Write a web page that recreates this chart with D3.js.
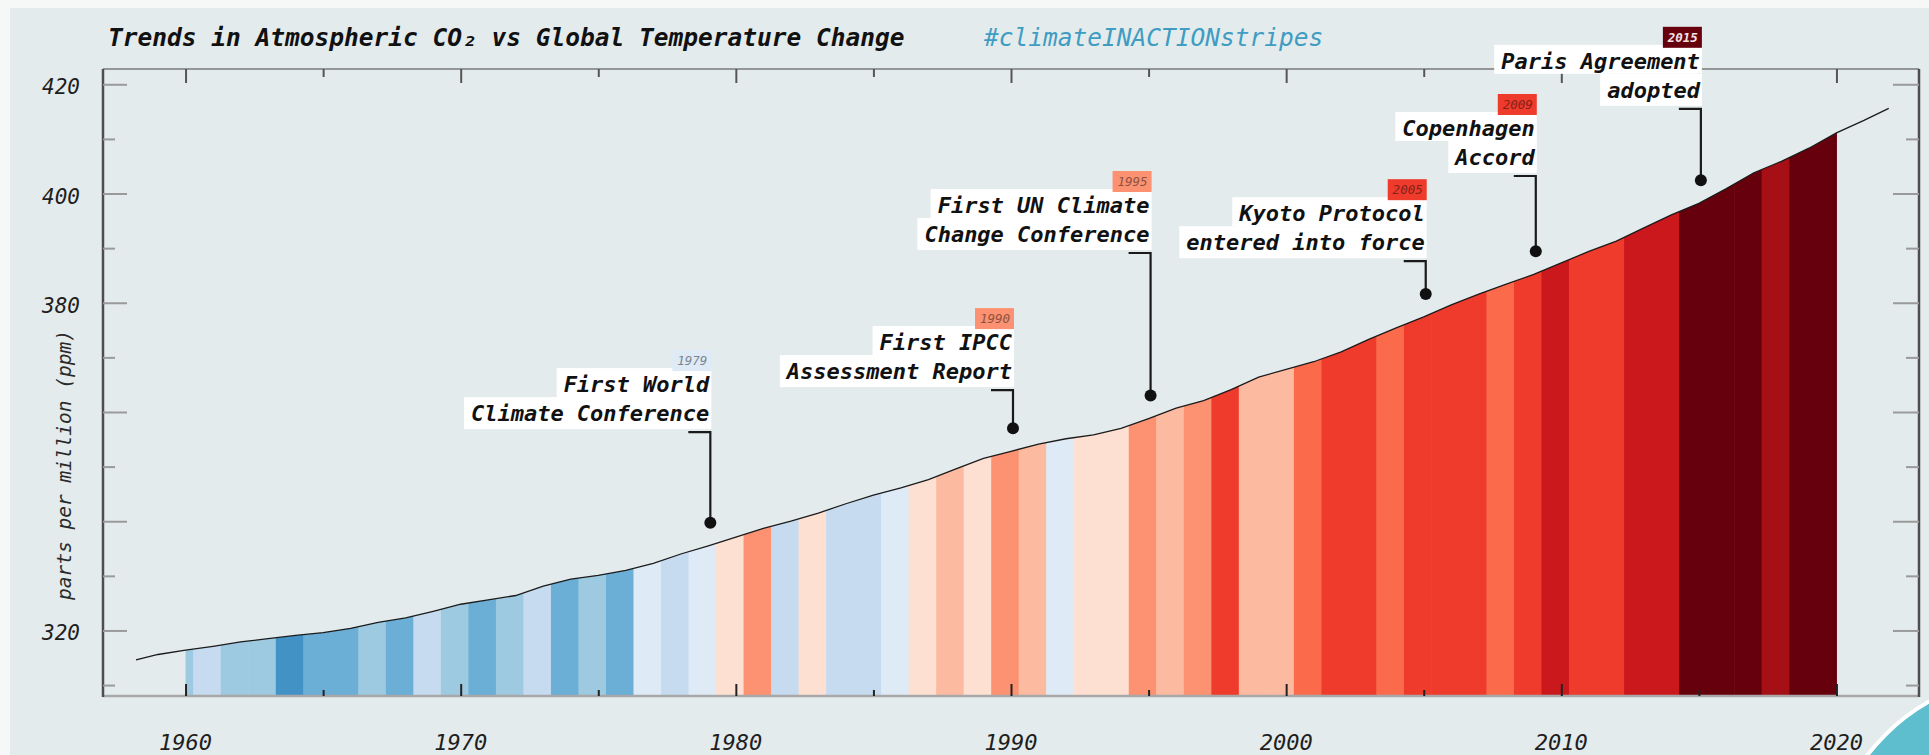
<!DOCTYPE html>
<html>
<head>
<meta charset="utf-8">
<script src="https://cdn.jsdelivr.net/npm/d3@7"></script>
<style>
  html, body { margin: 0; padding: 0; background: #fff; }
  svg { display: block; }
  text { font-family: 'DejaVu Sans Mono', monospace; }
</style>
</head>
<body>
<svg id="chart"></svg>
<script>
// CO2 concentration (ppm), at decimal-year dates
const co2Dates = [
  1958.2, 1959, 1960, 1961, 1962, 1963, 1964, 1965, 1966, 1967, 1968, 1969,
  1970, 1971, 1972, 1973, 1974, 1975, 1976, 1977, 1978, 1979,
  1980, 1981, 1982, 1983, 1984, 1985, 1986, 1987, 1988, 1989,
  1990, 1991, 1992, 1993, 1994, 1995, 1996, 1997, 1998, 1999,
  2000, 2001, 2002, 2003, 2004, 2005, 2006, 2007, 2008, 2009,
  2010, 2011, 2012, 2013, 2014, 2015, 2016, 2017, 2018, 2019,
  2020, 2021, 2021.9
]
const co2Values = [
  314.6, 315.6, 316.4, 317.1, 317.9, 318.5, 319.1, 319.6, 320.4, 321.5, 322.3, 323.5,
  324.8, 325.6, 326.4, 328.1, 329.4, 330.1, 331.0, 332.3, 334.0, 335.5,
  337.1, 338.7, 340.0, 341.5, 343.2, 344.8, 346.1, 347.6, 349.6, 351.5,
  352.8, 354.1, 355.1, 355.8, 357.0, 358.8, 360.7, 362.1, 364.1, 366.4,
  367.8, 369.2, 371.0, 373.3, 375.4, 377.4, 379.6, 381.6, 383.4, 385.2,
  387.3, 389.4, 391.3, 393.7, 396.1, 398.2, 400.9, 403.8, 405.9, 408.3,
  411.1, 413.4, 415.6
]

// warming stripes: one colour per year
const stripeYears = [
  1960, 1961, 1962, 1963, 1964, 1965, 1966, 1967, 1968, 1969,
  1970, 1971, 1972, 1973, 1974, 1975, 1976, 1977, 1978, 1979,
  1980, 1981, 1982, 1983, 1984, 1985, 1986, 1987, 1988, 1989,
  1990, 1991, 1992, 1993, 1994, 1995, 1996, 1997, 1998, 1999,
  2000, 2001, 2002, 2003, 2004, 2005, 2006, 2007, 2008, 2009,
  2010, 2011, 2012, 2013, 2014, 2015, 2016, 2017, 2018, 2019, 2020
]
const stripeColors = [
  '#9ecae1', '#c6dbef', '#9ecae1', '#9ecae1', '#4292c6', '#6baed6', '#6baed6', '#9ecae1', '#6baed6', '#c6dbef',
  '#9ecae1', '#6baed6', '#9ecae1', '#c6dbef', '#6baed6', '#9ecae1', '#6baed6', '#deebf7', '#c6dbef', '#deebf7',
  '#fee0d2', '#fc9272', '#c6dbef', '#fee0d2', '#c6dbef', '#c6dbef', '#deebf7', '#fee0d2', '#fcbba1', '#fee0d2',
  '#fc9272', '#fcbba1', '#deebf7', '#fee0d2', '#fee0d2', '#fc9272', '#fcbba1', '#fc9272', '#ef3b2c', '#fcbba1',
  '#fcbba1', '#fb6a4a', '#ef3b2c', '#ef3b2c', '#fb6a4a', '#ef3b2c', '#ef3b2c', '#ef3b2c', '#fb6a4a', '#ef3b2c',
  '#cb181d', '#ef3b2c', '#ef3b2c', '#cb181d', '#cb181d', '#67000d', '#67000d', '#67000d', '#a50f15', '#67000d', '#67000d'
]

// climate policy milestones
const eventYears = [1979, 1990, 1995, 2005, 2009, 2015]
const eventLabels = [
  ['First World', 'Climate Conference'],
  ['First IPCC', 'Assessment Report'],
  ['First UN Climate', 'Change Conference'],
  ['Kyoto Protocol', 'entered into force'],
  ['Copenhagen', 'Accord'],
  ['Paris Agreement', 'adopted']
]

const xTickLabels = [1960, 1970, 1980, 1990, 2000, 2010, 2020]
const yTickLabels = [320, 380, 400, 420]

// ---------------------------------------------------------------

const width = 1929
const height = 755
const plot = { left: 103, right: 1919, top: 69, bottom: 696 }

// where each callout's first text line sits, in ppm
const calloutLevels = [365.1, 372.8, 397.9, 396.4, 412.0, 424.3]

const x = d3.scaleLinear().domain([1957, 2023]).range([plot.left, plot.right])
const y = d3.scaleLinear().domain([308, 422.8]).range([plot.bottom, plot.top])

const svg = d3.select('#chart').attr('width', width).attr('height', height)

svg.append('rect').attr('width', width).attr('height', height).attr('fill', '#f6f8f8')
svg.append('rect')
  .attr('x', 10).attr('y', 8)
  .attr('width', width - 10).attr('height', height - 8)
  .attr('fill', '#e4ebec')

const co2 = co2Dates.map((date, i) => ({ date, value: co2Values[i] }))

// stripes, clipped to the area under the CO2 curve
const area = d3.area()
  .x(d => x(d.date))
  .y0(y(308))
  .y1(d => y(d.value))

svg.append('clipPath').attr('id', 'under-curve')
  .append('path').attr('d', area(co2))

const stripeOffset = 0.72
const first = stripeYears[0]
const last = stripeYears[stripeYears.length - 1]

svg.append('g')
  .attr('clip-path', 'url(#under-curve)')
  .selectAll('rect')
  .data(stripeYears)
  .join('rect')
  .attr('x', d => x(Math.max(first, d - stripeOffset)))
  .attr('width', d => x(Math.min(last, d + 1 - stripeOffset)) - x(Math.max(first, d - stripeOffset)) + 0.5)
  .attr('y', plot.top)
  .attr('height', plot.bottom - plot.top)
  .attr('fill', (d, i) => stripeColors[i])

svg.append('path')
  .datum(co2)
  .attr('fill', 'none')
  .attr('stroke', '#1b1b1b')
  .attr('stroke-width', 1.3)
  .attr('d', d3.line().x(d => x(d.date)).y(d => y(d.value)))

// frame
const frame = svg.append('g')
frame.append('line').attr('x1', plot.left).attr('x2', plot.right).attr('y1', plot.top).attr('y2', plot.top)
  .attr('stroke', '#7b7b7b').attr('stroke-width', 1.5)
frame.append('line').attr('x1', plot.left).attr('x2', plot.right).attr('y1', plot.bottom).attr('y2', plot.bottom)
  .attr('stroke', '#a8a8a8').attr('stroke-width', 2.5)
frame.append('line').attr('x1', plot.left).attr('x2', plot.left).attr('y1', plot.top).attr('y2', plot.bottom + 1)
  .attr('stroke', '#4d4d4d').attr('stroke-width', 2.5)
frame.append('line').attr('x1', plot.right).attr('x2', plot.right).attr('y1', plot.top).attr('y2', plot.bottom + 1)
  .attr('stroke', '#4d4d4d').attr('stroke-width', 2.5)

const drawTicks = (axis, values, size, color, transform) => {
  const g = svg.append('g')
    .attr('transform', transform)
    .call(axis.tickValues(values).tickSize(size).tickFormat(''))
  g.select('.domain').remove()
  g.selectAll('line').attr('stroke', color).attr('stroke-width', 2)
}

const decades = [1960, 1970, 1980, 1990, 2000, 2010, 2020]
const halfDecades = [1965, 1975, 1985, 1995, 2005, 2015]
const yMajor = [320, 340, 360, 380, 400, 420]
const yMinor = [310, 330, 350, 370, 390, 410]

drawTicks(d3.axisBottom(x), decades, -12, '#222', `translate(0,${plot.bottom})`)
drawTicks(d3.axisBottom(x), halfDecades, -6, '#222', `translate(0,${plot.bottom})`)
drawTicks(d3.axisTop(x), decades, -14, '#555', `translate(0,${plot.top})`)
drawTicks(d3.axisTop(x), halfDecades, -8, '#555', `translate(0,${plot.top})`)
drawTicks(d3.axisLeft(y), yMajor, -24, '#9a9a9a', `translate(${plot.left},0)`)
drawTicks(d3.axisLeft(y), yMinor, -12, '#9a9a9a', `translate(${plot.left},0)`)
drawTicks(d3.axisRight(y), yMajor, -26, '#9a9a9a', `translate(${plot.right},0)`)
drawTicks(d3.axisRight(y), yMinor, -13, '#9a9a9a', `translate(${plot.right},0)`)

// tick labels
svg.append('g')
  .selectAll('text')
  .data(xTickLabels)
  .join('text')
  .attr('x', d => x(d))
  .attr('y', 750)
  .attr('text-anchor', 'middle')
  .attr('font-size', 22)
  .attr('font-style', 'italic')
  .attr('fill', '#1e1e1e')
  .text(d => d)

svg.append('g')
  .selectAll('text')
  .data(yTickLabels)
  .join('text')
  .attr('x', 80)
  .attr('y', d => y(d) + 10)
  .attr('text-anchor', 'end')
  .attr('font-size', 21)
  .attr('font-style', 'italic')
  .attr('fill', '#1e1e1e')
  .text(d => d)

svg.append('text')
  .attr('transform', 'translate(64,465) rotate(-90)')
  .attr('text-anchor', 'middle')
  .attr('dy', '0.35em')
  .attr('font-size', 19.5)
  .attr('font-style', 'italic')
  .attr('fill', '#2a2a2a')
  .text('parts per million (ppm)')

// title
svg.append('text')
  .attr('x', 108).attr('y', 46)
  .attr('font-size', 24.5)
  .attr('font-weight', 'bold')
  .attr('font-style', 'italic')
  .attr('fill', '#111')
  .text('Trends in Atmospheric CO\u2082 vs Global Temperature Change')

svg.append('text')
  .attr('x', 984).attr('y', 46)
  .attr('font-size', 24.5)
  .attr('font-style', 'italic')
  .attr('fill', '#3f9cc2')
  .text('#climateINACTIONstripes')

// callouts
const co2At = year => {
  const i = d3.bisector(d => d.date).left(co2, year)
  const a = co2[i - 1]
  const b = co2[i]
  return a.value + (b.value - a.value) * (year - a.date) / (b.date - a.date)
}

eventYears.forEach((year, i) => {
  const xv = x(year) + 2
  const c1 = y(calloutLevels[i])
  const color = stripeColors[stripeYears.indexOf(year)]
  const g = svg.append('g')

  eventLabels[i].forEach((label, j) => {
    const cy = c1 + j * 29
    const box = g.append('rect').attr('fill', '#fff')
    const txt = g.append('text')
      .attr('x', xv - 1)
      .attr('y', cy + 8)
      .attr('text-anchor', 'end')
      .attr('font-size', 22)
      .attr('font-weight', 'bold')
      .attr('font-style', 'italic')
      .attr('fill', '#111')
      .text(label)
    const w = txt.node().getComputedTextLength()
    box.attr('x', xv - 1 - w - 7)
      .attr('y', j === 0 ? c1 - 16 : c1 + 13)
      .attr('width', w + 9)
      .attr('height', j === 0 ? 29 : 32)
  })

  g.append('rect')
    .attr('x', xv - 38).attr('y', c1 - 34)
    .attr('width', 39).attr('height', 21)
    .attr('fill', color)
  g.append('text')
    .attr('x', xv - 3).attr('y', c1 - 19)
    .attr('text-anchor', 'end')
    .attr('font-size', 12.5)
    .attr('font-style', 'italic')
    .attr('font-weight', year === 2015 ? 'bold' : 'normal')
    .attr('fill', color === '#67000d' ? '#f5e4e4' : d3.color(color).darker(1.6))
    .text(year)

  const dotY = y(co2At(year)) - 23
  g.append('path')
    .attr('d', `M${xv - 22},${c1 + 48}H${xv}V${dotY}`)
    .attr('fill', 'none')
    .attr('stroke', '#1a1a1a')
    .attr('stroke-width', 2.2)
  g.append('circle')
    .attr('cx', xv).attr('cy', dotY)
    .attr('r', 6)
    .attr('fill', '#111')
})

// corner badge
svg.append('circle')
  .attr('cx', 2030).attr('cy', 880).attr('r', 205)
  .attr('fill', '#5fbecd')
  .attr('stroke', '#fff')
  .attr('stroke-width', 4)
</script>
</body>
</html>
